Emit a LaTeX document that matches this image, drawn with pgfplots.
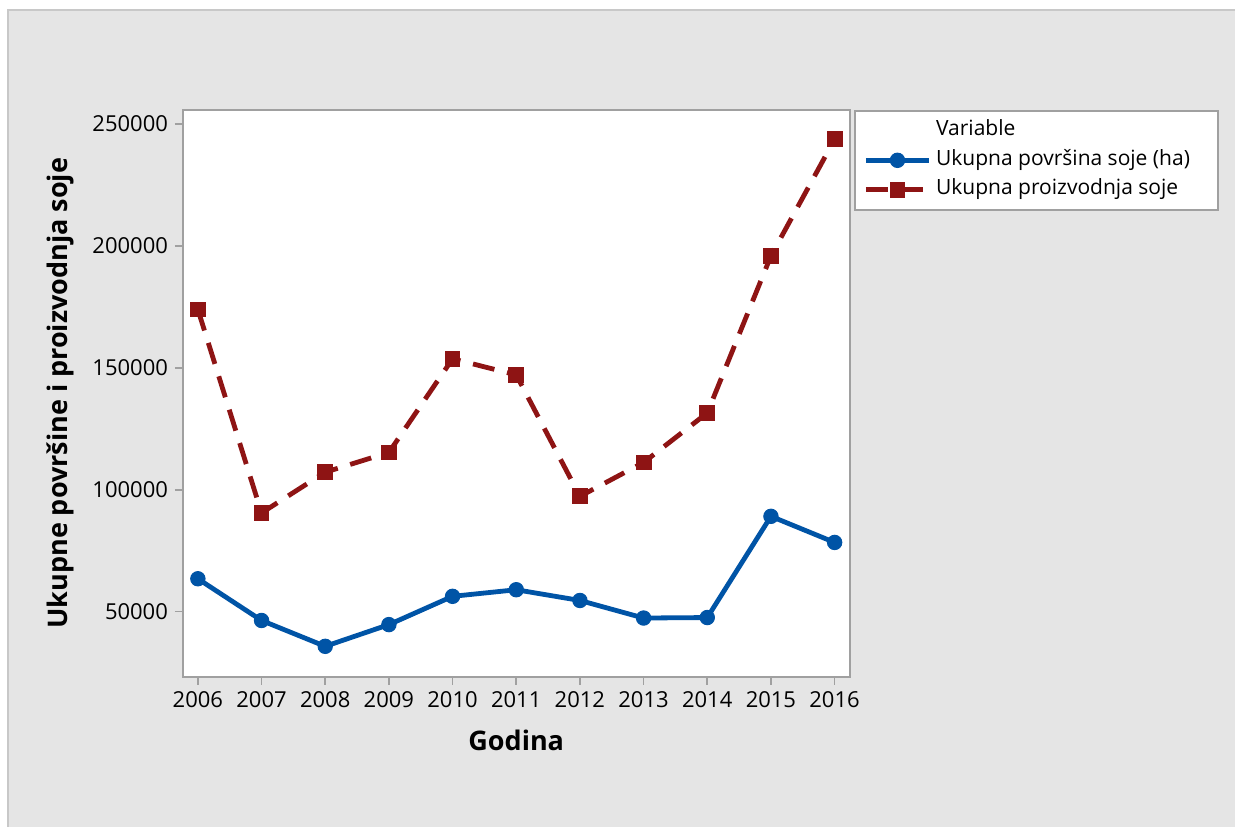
\documentclass[border=0pt]{standalone}
\usepackage{pgfplots}
\pgfplotsset{compat=1.18}
\usepackage{fontspec}
\setmainfont{Open Sans}
\definecolor{mtblue}{RGB}{0,84,166}
\definecolor{mtred}{RGB}{142,20,20}
\definecolor{mtbg}{RGB}{229,229,229}
\definecolor{mtframe}{RGB}{160,160,160}
\begin{document}
\begin{tikzpicture}
% background: 1 px = 0.5 pt
\fill[white] (0pt,0pt) rectangle (618pt,413.5pt);
\fill[mtbg] (4pt,0pt) rectangle (618pt,408.5pt);
\draw[line width=0.6pt, color={rgb,255:red,200;green,200;blue,200}] (4pt,0pt) -- (4pt,408.5pt) -- (618pt,408.5pt);
\begin{axis}[
    at={(91.5pt,75pt)}, anchor=south west,
    scale only axis,
    width=333.5pt, height=283.5pt,
    xmin=2005.765, xmax=2016.235,
    ymin=23360, ymax=255740,
    xtick={2006,2007,...,2016},
    ytick={50000,100000,150000,200000,250000},
    /pgf/number format/fixed,
    /pgf/number format/precision=0,
    /pgf/number format/1000 sep={},
    /pgf/number format/assume math mode=true,
    scaled y ticks=false,
    tick label style={font=\fontsize{11}{13}\selectfont},
    axis line style={mtframe, line width=1pt},
    axis background/.style={fill=white},
    tick style={mtframe, line width=0.8pt},
    tick align=outside,
    major tick length=4pt,
    xtick pos=bottom, ytick pos=left,
    xlabel={Godina},
    ylabel={Ukupne površine i proizvodnja soje},
    label style={font=\fontsize{13.5}{16}\selectfont\bfseries},
    xlabel style={at={(axis description cs:0.5,-0.1129)}, anchor=center},
    ylabel style={at={(axis description cs:-0.1844,0.5)}, anchor=center},
    legend style={at={(1,1)}, anchor=north west, xshift=2pt,
        draw=mtframe, line width=1pt, fill=white,
        font=\fontsize{10.5}{12}\selectfont,
        inner xsep=4.5pt, inner ysep=2.5pt,
        row sep=0pt,
        nodes={inner sep=2.4pt, text depth=0.25em, text height=0.75em},
        /tikz/every even column/.append style={column sep=2pt}},
    legend cell align=left,
    legend image code/.code={
        \draw[#1, mark=none] (0pt,0pt) -- (31.5pt,0pt);
        \draw[#1, solid] plot[only marks] coordinates {(15.75pt,0pt)};
    },
]
\addlegendimage{empty legend}
\addlegendentry{\makebox[134pt][l]{Variable}}
\addplot[color=mtblue, line width=2.4pt, mark=*, mark size=3.6pt,
    mark options={solid, fill=mtblue, draw=mtblue, line width=0.5pt}]
coordinates {
    (2006,63500) (2007,46400) (2008,35800) (2009,44700) (2010,56300)
    (2011,59000) (2012,54600) (2013,47400) (2014,47600) (2015,89100)
    (2016,78400)
};
\addlegendentry{Ukupna površina soje (ha)}
\addplot[color=mtred, line width=2.4pt, dash pattern=on 11pt off 6.5pt,
    mark=square*, mark size=3.7pt,
    mark options={solid, fill=mtred, draw=mtred, line width=0.5pt}]
coordinates {
    (2006,173900) (2007,90500) (2008,107200) (2009,115300) (2010,153700)
    (2011,147100) (2012,97300) (2013,111200) (2014,131500) (2015,195900)
    (2016,243700)
};
\addlegendentry{Ukupna proizvodnja soje}
\end{axis}
\end{tikzpicture}
\end{document}
